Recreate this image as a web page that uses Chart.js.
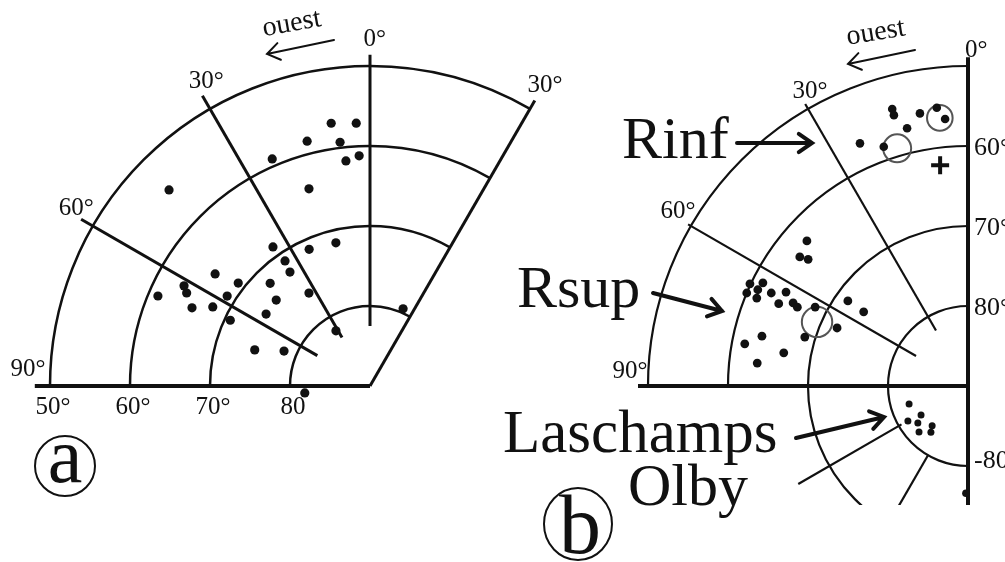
<!DOCTYPE html>
<html>
<head>
<meta charset="utf-8">
<script src="https://cdn.jsdelivr.net/npm/chart.js@4.4.0/dist/chart.umd.min.js"></script>
<style>
  html, body { margin: 0; padding: 0; background: #fff; }
  #wrap { position: relative; width: 1005px; height: 562px; overflow: hidden; }
  canvas { position: absolute; left: 0; top: 0; }
</style>
</head>
<body>
<div id="wrap">
  <canvas id="panelA" width="1005" height="562"></canvas>
  <canvas id="panelB" width="1005" height="562"></canvas>
</div>
<script>
// directions: declination (deg clockwise from north), inclination (deg)
// panel a
const decA = [351.6, 357.0, 345.6, 353.0, 357.3, 353.9, 336.7, 314.3, 342.8, 346.6, 325.1, 336.0, 325.8, 324.9, 305.9, 315.8,
              308.0, 298.3, 296.9, 293.0, 302.2, 326.7, 312.5, 293.7, 296.7, 304.7, 295.2, 328.3, 23.2, 287.4, 292.1, 263.9];
const incA = [56.8, 57.1, 58.4, 59.3, 61.2, 61.7, 59.1, 54.9, 64.2, 71.6, 68.8, 71.3, 71.1, 72.6, 66.1, 72.1,
              69.1, 63.6, 64.3, 61.2, 68.9, 76.1, 74.1, 65.7, 68.0, 74.2, 70.7, 81.9, 79.5, 74.9, 78.4, 81.8];

// panel b
const decRinf = [344.7, 344.7, 350.0, 353.6, 355.1, 346.7, 336.0, 340.6];
const incRinf = [54.1, 54.9, 55.4, 55.0, 56.5, 56.9, 56.8, 58.3];
const decRsup = [312.0, 307.5, 308.4, 295.1, 296.7, 292.8, 294.6, 292.6, 295.3, 297.3, 293.5, 295.4, 294.8, 297.3, 305.3,
                 305.4, 293.9, 286.7, 283.6, 280.7, 280.2, 276.2];
const incRsup = [62.9, 63.5, 64.5, 59.9, 61.3, 60.0, 61.1, 61.4, 62.8, 64.4, 64.2, 65.8, 66.5, 68.5, 71.6,
                 74.0, 72.1, 68.7, 63.5, 61.6, 66.6, 63.5];
const decLaschamps = [253.0, 238.3, 239.7, 233.5, 226.8, 222.0, 218.8];
const incLaschamps = [-82.3, -83.1, -81.3, -82.2, -81.6, -83.3, -82.6];
const decOlby = [181.1];
const incOlby = [-76.6];
// mean directions with their confidence circles
const decMean = [354.0, 343.4, 293.0];
const incMean = [56.3, 59.0, 69.5];
const a95Mean = [1.6, 1.75, 1.9];
const decField = [352.8];
const incField = [62.2];

// tick labels
const ringIncA = [50, 60, 70, 80];
const ringLabelsA = ['50°', '60°', '70°', '80'];
const decLabelsA = ['0°', '30°', '60°', '90°', '30°'];
const ringIncB = [60, 70, 80, -80];
const ringLabelsB = ['60°', '70°', '80°', '-80°'];
const decLabelsB = ['0°', '30°', '60°', '90°'];

const SERIF = '"Liberation Serif", "Times New Roman", serif';
const INK = '#111';

const toXY = (dec, inc) => {
  const r = 90 - Math.abs(inc), a = dec * Math.PI / 180;
  return { x: r * Math.sin(a), y: r * Math.cos(a) };
};
const pairs = (decs, incs) => decs.map((d, i) => toXY(d, incs[i]));

// pixel position of a (declination, colatitude) through the chart scales
const polar = (chart, dec, colat) => {
  const { x, y } = chart.scales;
  const p = toXY(dec, 90 - colat);
  return [x.getPixelForValue(p.x), y.getPixelForValue(p.y)];
};

function arrow(ctx, x1, y1, x2, y2, w, len) {
  const a = Math.atan2(y2 - y1, x2 - x1), s = 0.6;
  ctx.lineWidth = w;
  ctx.lineCap = 'round';
  ctx.beginPath();
  ctx.moveTo(x1, y1); ctx.lineTo(x2, y2);
  ctx.moveTo(x2 - len * Math.cos(a - s), y2 - len * Math.sin(a - s));
  ctx.lineTo(x2, y2);
  ctx.lineTo(x2 - len * Math.cos(a + s), y2 - len * Math.sin(a + s));
  ctx.stroke();
}

function text(ctx, t, x, y, size, align, base, rot) {
  ctx.save();
  ctx.translate(x, y);
  if (rot) ctx.rotate(rot * Math.PI / 180);
  ctx.font = size + 'px ' + SERIF;
  ctx.textAlign = align || 'center';
  ctx.textBaseline = base || 'middle';
  ctx.fillText(t, 0, 0);
  ctx.restore();
}

// grid (rings + spokes) under the points, labels and arrows on top
const overlay = (rings, spokes, drawLabels) => ({
  id: 'overlay',
  beforeDatasetsDraw(chart) {
    const { ctx, chartArea: ca } = chart;
    const [cx, cy] = polar(chart, 0, 0);
    const k = chart.scales.x.getPixelForValue(1) - cx;
    ctx.save();
    ctx.beginPath();
    ctx.rect(ca.left, ca.top, ca.right - ca.left, ca.bottom - ca.top);
    ctx.clip();
    ctx.strokeStyle = INK;
    rings.forEach(([inc, d0, d1, w]) => {
      ctx.lineWidth = w;
      ctx.beginPath();
      ctx.arc(cx, cy, (90 - inc) * k, (d0 - 90) * Math.PI / 180, (d1 - 90) * Math.PI / 180);
      ctx.stroke();
    });
    spokes.forEach(([dec, r0, r1, w]) => {
      const [xa, ya] = polar(chart, dec, r0), [xb, yb] = polar(chart, dec, r1);
      ctx.lineWidth = w;
      ctx.lineCap = 'butt';
      ctx.beginPath(); ctx.moveTo(xa, ya); ctx.lineTo(xb, yb); ctx.stroke();
    });
    ctx.restore();
  },
  afterDraw(chart) {
    const ctx = chart.ctx;
    ctx.save();
    ctx.fillStyle = INK;
    ctx.strokeStyle = INK;
    drawLabels(chart, ctx);
    ctx.restore();
  }
});

const baseOptions = (xr, yr, padBottom) => ({
  responsive: false,
  animation: false,
  events: [],
  layout: { autoPadding: false, padding: { left: 0, right: 0, top: 0, bottom: padBottom } },
  scales: {
    x: { type: 'linear', display: false, min: xr[0], max: xr[1] },
    y: { type: 'linear', display: false, min: yr[0], max: yr[1] }
  },
  plugins: { legend: { display: false }, tooltip: { enabled: false } }
});

const dots = (data, r) => ({
  data, pointRadius: r, pointBackgroundColor: INK, pointBorderWidth: 0, showLine: false
});

// ---------- panel a ----------
new Chart(document.getElementById('panelA'), {
  type: 'scatter',
  data: { datasets: [dots(pairs(decA, incA), 4.6)] },
  options: baseOptions([-46.25, 79.375], [-22, 48.25], 0),
  plugins: [overlay(
    ringIncA.map(inc => [inc, 270, 390, 2.5]),
    [[0, 7.5, 41.4, 3], [330, 7, 41.9, 3], [300, 7.6, 41.7, 3], [270, 0, 41.9, 4], [30, 0, 41.2, 3]],
    (chart, ctx) => {
      ringIncA.forEach((inc, i) => {
        const [px, py] = polar(chart, 270, 90 - inc);
        text(ctx, ringLabelsA[i], px + 3, py + 21, 25);
      });
      [[0.8, 43.3], [331.7, 43.2], [301.1, 42.9], [272.7, 42.8], [30.2, 43.5]].forEach(([d, c], i) => {
        const [px, py] = polar(chart, d, c);
        text(ctx, decLabelsA[i], px, py, 25);
      });
      text(ctx, 'ouest', 293, 31, 28, 'center', 'alphabetic', -10);
      arrow(ctx, 334, 40, 267, 54, 2, 15);
      ctx.lineWidth = 2;
      ctx.beginPath(); ctx.arc(65, 466, 30, 0, Math.PI * 2); ctx.stroke();
      text(ctx, 'a', 65, 482, 78, 'center', 'alphabetic');
    })]
});

// ---------- panel b ----------
new Chart(document.getElementById('panelB'), {
  type: 'scatter',
  data: {
    datasets: [
      dots(pairs(decRinf, incRinf), 4.3),
      dots(pairs(decRsup, incRsup), 4.4),
      dots(pairs(decLaschamps, incLaschamps), 3.5),
      dots(pairs(decOlby, incOlby), 3.8),
      {
        data: pairs(decMean, incMean),
        showLine: false,
        pointBackgroundColor: 'rgba(0,0,0,0)',
        pointBorderColor: '#555',
        pointBorderWidth: 2,
        pointRadius: (c) => {
          const x = c.chart.scales.x;
          return a95Mean[c.dataIndex] * (x.getPixelForValue(1) - x.getPixelForValue(0));
        }
      },
      {
        data: pairs(decField, incField),
        showLine: false,
        pointStyle: 'cross',
        pointRadius: 9,
        pointBorderWidth: 4,
        pointBorderColor: INK
      }
    ]
  },
  options: baseOptions([-121, 4.625], [-14.875, 48.25], 57),
  plugins: [overlay(
    [[50, 270, 360, 2.2], [60, 270, 360, 2.2], [70, 180, 360, 2.2], [80, 180, 360, 2.2]],
    [[0, 0, 41.1, 4], [180, 0, 20, 4], [270, 0, 41.25, 4], [330, 8, 40.7, 2.2], [300, 7.5, 40.4, 2.2],
     [240, 9.6, 24.5, 2.2], [210, 10, 30, 2.2]],
    (chart, ctx) => {
      ringIncB.forEach((inc, i) => {
        const [px, py] = polar(chart, inc < 0 ? 180 : 0, 90 - Math.abs(inc));
        text(ctx, ringLabelsB[i], px + 6, py + (inc < 0 ? -5 : 2), 26, 'left');
      });
      [[1.4, 42], [331.8, 41.8], [301, 42.3], [272.4, 42.3]].forEach(([d, c], i) => {
        const [px, py] = polar(chart, d, c);
        text(ctx, decLabelsB[i], px, py, 25);
      });
      text(ctx, 'ouest', 877, 40, 28, 'center', 'alphabetic', -9.3);
      arrow(ctx, 915, 50, 848, 64, 2, 15);

      text(ctx, 'Rinf', 622, 158, 60, 'left', 'alphabetic');
      arrow(ctx, 737, 143, 812, 143, 4, 16);
      text(ctx, 'Rsup', 517, 307, 60, 'left', 'alphabetic');
      arrow(ctx, 653, 293, 722, 311, 4, 16);
      text(ctx, 'Laschamps', 503, 452, 61, 'left', 'alphabetic');
      arrow(ctx, 796, 438, 884, 417, 4, 16);
      text(ctx, 'Olby', 628, 505, 60, 'left', 'alphabetic');

      ctx.lineWidth = 2;
      ctx.beginPath(); ctx.ellipse(578, 524, 34, 36, 0, 0, Math.PI * 2); ctx.stroke();
      text(ctx, 'b', 580, 553, 84, 'center', 'alphabetic');
    })]
});
</script>
</body>
</html>
